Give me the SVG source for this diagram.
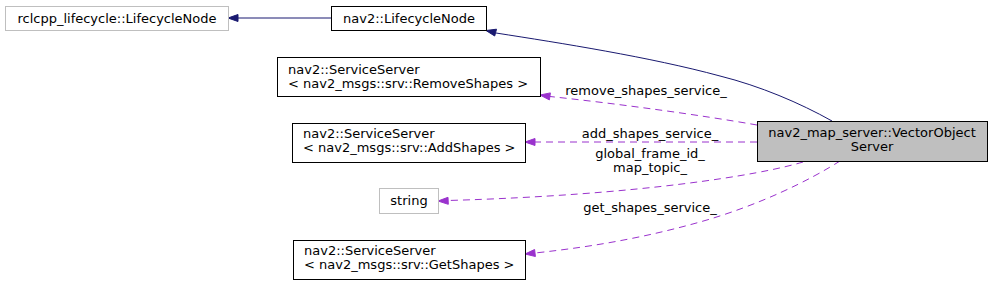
<svg xmlns="http://www.w3.org/2000/svg" width="992" height="286" viewBox="0 0 992 286">
<style>
text{font-family:"DejaVu Sans",sans-serif;font-size:13px;fill:#000}
.c{text-anchor:middle}
.box{fill:#fff;stroke:#000;stroke-width:1}
.ext{fill:#fff;stroke:#bfbfbf;stroke-width:1}
.main{fill:#bfbfbf;stroke:#000;stroke-width:1}
.inh{fill:none;stroke:#191970;stroke-width:1}
.inhh{fill:#191970;stroke:#191970}
.use{fill:none;stroke:#9a32cd;stroke-width:1;stroke-dasharray:7,5}
.useh{fill:#9a32cd;stroke:#9a32cd}
</style>
<rect width="992" height="286" fill="#fff"/>
<g id="connectors">
<path class="inh" d="M331,18 L238,18"/>
<polygon class="inhh" points="228,18 238,14.5 238,21.5"/>
<path class="inh" d="M832,121 C800,103 760,86 720,76 C650,57 560,43 496,33"/>
<polygon class="inhh" points="486,30.5 496.5,29.2 494.7,36"/>
<path class="use" d="M757,125 C700,115 620,104 550,96.5"/>
<polygon class="useh" points="540,95 550.4,92.9 549.4,99.9"/>
<text class="c" x="646" y="95">remove_shapes_service_</text>
<path class="use" d="M757,142 L535,142"/>
<polygon class="useh" points="525,142 535,138.5 535,145.5"/>
<text class="c" x="650" y="138">add_shapes_service_</text>
<path class="use" d="M803,162 C760,175 640,195 448,200.5"/>
<polygon class="useh" points="438,201 448,197.3 448.3,204.3"/>
<text class="c" x="650" y="158">global_frame_id_</text>
<text class="c" x="650" y="172">map_topic_</text>
<path class="use" d="M840,161 C810,180 760,205 700,222 C650,236 600,246 535,253"/>
<polygon class="useh" points="525,254 534.6,249.5 535.4,256.5"/>
<text class="c" x="650" y="212">get_shapes_service_</text>
</g>
<g id="node-rclcpp-lifecycle-node">
<rect class="ext" x="5.5" y="6.5" width="223" height="24"/>
<text class="c" x="117" y="22.5">rclcpp_lifecycle::LifecycleNode</text>
</g>
<g id="node-nav2-lifecycle-node">
<rect class="box" x="331.5" y="6.5" width="155" height="24"/>
<text class="c" x="409" y="22.5">nav2::LifecycleNode</text>
</g>
<g id="node-remove-shapes">
<rect class="box" x="277.5" y="57.5" width="263" height="39"/>
<text x="288" y="73.5">nav2::ServiceServer</text>
<text x="288" y="88">&lt; nav2_msgs::srv::RemoveShapes &gt;</text>
</g>
<g id="node-add-shapes">
<rect class="box" x="292.5" y="123.5" width="233" height="39"/>
<text x="303" y="137.5">nav2::ServiceServer</text>
<text x="303" y="152">&lt; nav2_msgs::srv::AddShapes &gt;</text>
</g>
<g id="node-string">
<rect class="ext" x="379.5" y="188.5" width="59" height="25"/>
<text class="c" x="409" y="205">string</text>
</g>
<g id="node-get-shapes">
<rect class="box" x="293.5" y="240.5" width="232" height="39"/>
<text x="304" y="254.5">nav2::ServiceServer</text>
<text x="304" y="269">&lt; nav2_msgs::srv::GetShapes &gt;</text>
</g>
<g id="node-vector-object-server">
<rect class="main" x="757.5" y="121.5" width="230" height="40"/>
<text class="c" x="872" y="136.5">nav2_map_server::VectorObject</text>
<text class="c" x="872" y="151">Server</text>
</g>
</svg>
